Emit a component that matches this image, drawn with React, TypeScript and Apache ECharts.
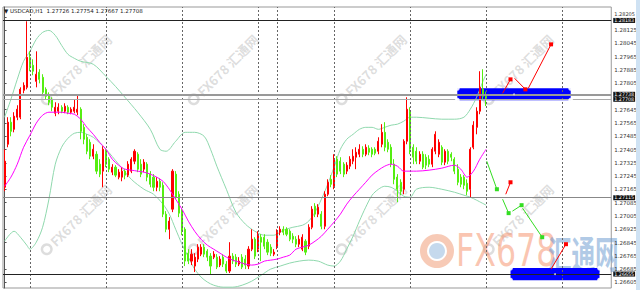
import React, { useEffect, useRef } from "react";
import * as echarts from "echarts";

const headerText = "▼ USDCAD,H1  1.27726 1.27754 1.27667 1.27708";
const SLOTS = 192;

// [open, close, low, high]
const candles = [
  [1.27178, 1.27335, 1.27154, 1.27407], [1.27437, 1.2757, 1.27419, 1.276], [1.2757, 1.27515, 1.27485, 1.276],
  [1.27527, 1.27606, 1.27509, 1.2763], [1.276, 1.27648, 1.27582, 1.27672], [1.276, 1.27768, 1.27588, 1.2778],
  [1.27762, 1.27792, 1.27744, 1.2781], [1.2778, 1.27961, 1.27768, 1.28178], [1.27961, 1.27901, 1.27877, 1.27997],
  [1.27913, 1.27877, 1.27853, 1.27949], [1.27816, 1.27859, 1.2778, 1.27997], [1.27871, 1.27828, 1.27804, 1.27889],
  [1.2784, 1.2775, 1.27732, 1.27859], [1.27768, 1.27726, 1.27708, 1.2778], [1.27732, 1.2769, 1.27672, 1.2775],
  [1.27708, 1.2766, 1.27636, 1.2772], [1.27624, 1.2766, 1.27606, 1.2769], [1.27636, 1.2766, 1.27618, 1.27684],
  [1.2766, 1.27636, 1.27624, 1.27672], [1.27636, 1.27666, 1.27624, 1.27684], [1.2766, 1.2763, 1.27618, 1.27672],
  [1.2763, 1.27648, 1.27618, 1.2766], [1.27636, 1.2766, 1.27624, 1.27708], [1.2763, 1.27648, 1.27612, 1.27732],
  [1.27648, 1.27515, 1.27467, 1.2766], [1.27539, 1.27467, 1.27437, 1.27558], [1.27479, 1.27395, 1.27377, 1.27497],
  [1.27449, 1.27365, 1.27347, 1.27467], [1.27365, 1.27407, 1.27347, 1.27437], [1.27377, 1.27275, 1.27257, 1.27395],
  [1.27317, 1.27257, 1.27239, 1.27347], [1.27275, 1.27407, 1.27178, 1.27425], [1.27395, 1.27317, 1.27299, 1.27407],
  [1.27347, 1.27287, 1.27269, 1.27359], [1.27269, 1.27299, 1.27251, 1.27317], [1.27299, 1.27251, 1.27239, 1.27311],
  [1.27239, 1.27269, 1.27226, 1.27287], [1.27239, 1.27275, 1.27214, 1.27299], [1.27275, 1.27251, 1.27226, 1.27287],
  [1.27251, 1.27317, 1.27239, 1.27335], [1.27275, 1.27347, 1.27263, 1.27359], [1.27335, 1.27395, 1.27317, 1.27407],
  [1.27377, 1.27287, 1.27269, 1.27389], [1.27317, 1.27257, 1.27239, 1.27347], [1.27287, 1.27329, 1.27269, 1.27347],
  [1.27317, 1.27239, 1.27214, 1.27329], [1.27257, 1.27196, 1.27178, 1.27275], [1.27239, 1.27178, 1.27154, 1.27257],
  [1.27178, 1.27214, 1.27154, 1.27239], [1.27214, 1.27178, 1.27154, 1.27232], [1.2719, 1.27016, 1.26998, 1.27208],
  [1.27016, 1.26925, 1.26907, 1.27034], [1.26925, 1.26974, 1.26865, 1.26998], [1.27046, 1.27275, 1.27028, 1.27287],
  [1.27257, 1.27118, 1.27106, 1.27275], [1.27136, 1.27022, 1.26998, 1.27154], [1.27034, 1.26913, 1.26889, 1.27046],
  [1.26925, 1.26733, 1.26703, 1.26937], [1.26781, 1.26733, 1.26715, 1.26805], [1.26733, 1.26775, 1.26709, 1.26805],
  [1.26703, 1.26757, 1.26667, 1.26781], [1.26745, 1.26817, 1.26727, 1.26835], [1.26775, 1.26817, 1.26763, 1.26835],
  [1.26817, 1.26775, 1.26757, 1.26835], [1.26793, 1.26757, 1.26733, 1.26805], [1.26763, 1.26703, 1.26655, 1.26781],
  [1.26757, 1.26775, 1.26745, 1.26793], [1.26757, 1.26697, 1.26685, 1.26775], [1.26709, 1.26745, 1.26697, 1.26763],
  [1.26757, 1.26715, 1.26697, 1.26775], [1.26715, 1.26673, 1.26661, 1.26733], [1.26673, 1.26763, 1.26661, 1.26847],
  [1.26763, 1.26733, 1.26715, 1.26781], [1.26757, 1.26715, 1.26697, 1.26775], [1.26715, 1.26733, 1.26703, 1.26757],
  [1.26757, 1.26697, 1.26685, 1.26775], [1.26745, 1.26709, 1.26685, 1.26769], [1.26703, 1.26805, 1.26685, 1.26823],
  [1.26805, 1.26865, 1.26793, 1.26925], [1.26865, 1.26763, 1.26745, 1.26877], [1.26805, 1.26895, 1.26787, 1.26913],
  [1.26877, 1.26847, 1.26733, 1.26895], [1.26877, 1.26823, 1.26805, 1.26895], [1.26847, 1.26787, 1.26769, 1.26865],
  [1.26817, 1.26781, 1.26763, 1.26835], [1.26775, 1.26787, 1.26763, 1.26805], [1.26817, 1.26907, 1.26805, 1.26925],
  [1.26907, 1.26925, 1.26889, 1.26943], [1.26925, 1.26907, 1.26889, 1.26943], [1.26925, 1.26895, 1.26883, 1.26937],
  [1.26913, 1.26865, 1.26853, 1.26925], [1.26883, 1.26865, 1.26841, 1.26901], [1.26865, 1.26835, 1.26817, 1.26883],
  [1.26835, 1.26865, 1.26817, 1.26889], [1.26805, 1.26877, 1.26793, 1.26895], [1.26853, 1.26787, 1.26769, 1.26865],
  [1.26823, 1.26937, 1.26805, 1.26955], [1.26937, 1.27046, 1.26925, 1.27064], [1.27064, 1.27016, 1.26998, 1.27082],
  [1.27016, 1.27058, 1.26998, 1.27076], [1.27016, 1.26943, 1.26925, 1.27034], [1.26943, 1.27136, 1.26925, 1.27154],
  [1.27136, 1.27208, 1.27124, 1.27226], [1.27226, 1.27196, 1.27178, 1.27251], [1.27184, 1.27347, 1.27166, 1.27377],
  [1.27347, 1.27257, 1.27239, 1.27365], [1.27335, 1.27275, 1.27257, 1.27359], [1.27317, 1.27257, 1.27239, 1.27329],
  [1.27275, 1.27311, 1.27257, 1.27329], [1.27305, 1.27347, 1.27287, 1.27365], [1.27335, 1.27365, 1.27317, 1.27407],
  [1.27359, 1.27389, 1.27287, 1.27419], [1.27377, 1.27407, 1.27359, 1.27437], [1.27407, 1.27377, 1.27359, 1.27425],
  [1.27377, 1.27419, 1.27365, 1.27437], [1.27413, 1.27389, 1.27371, 1.27431], [1.27407, 1.27377, 1.27359, 1.27419],
  [1.27407, 1.27383, 1.27371, 1.27419], [1.27395, 1.27455, 1.27377, 1.27479], [1.27437, 1.27509, 1.27419, 1.27558],
  [1.27509, 1.27419, 1.27395, 1.2757], [1.27449, 1.27407, 1.27389, 1.27467], [1.27419, 1.27317, 1.27299, 1.27437],
  [1.27317, 1.27226, 1.27196, 1.27347], [1.27239, 1.27166, 1.27088, 1.27257], [1.27208, 1.27154, 1.2713, 1.27226],
  [1.27166, 1.27455, 1.27136, 1.27467], [1.27455, 1.27648, 1.27437, 1.2772], [1.27636, 1.27407, 1.27377, 1.2766],
  [1.27419, 1.27359, 1.27317, 1.27437], [1.27395, 1.27335, 1.27317, 1.27419], [1.27335, 1.27377, 1.27317, 1.27395],
  [1.27377, 1.27299, 1.27287, 1.27395], [1.27359, 1.27311, 1.27287, 1.27377], [1.27347, 1.27317, 1.27299, 1.27371],
  [1.27317, 1.27407, 1.27299, 1.27419], [1.27395, 1.27497, 1.27377, 1.27515], [1.27377, 1.27449, 1.27359, 1.27467],
  [1.27419, 1.27329, 1.27311, 1.27431], [1.27329, 1.27395, 1.27311, 1.27407], [1.27395, 1.27335, 1.27317, 1.27407],
  [1.27377, 1.27359, 1.27335, 1.27389], [1.27347, 1.27275, 1.27257, 1.27359], [1.27287, 1.27208, 1.2719, 1.27317],
  [1.27239, 1.27196, 1.27178, 1.27257], [1.27239, 1.2719, 1.27166, 1.27251], [1.27202, 1.27154, 1.2713, 1.27226],
  [1.27166, 1.27407, 1.27118, 1.27419], [1.27419, 1.27552, 1.27407, 1.27576], [1.27539, 1.27636, 1.27497, 1.2766],
  [1.27636, 1.2778, 1.27618, 1.27877], [1.27768, 1.27726, 1.27702, 1.27889], [1.27726, 1.27708, 1.27667, 1.27754],
];

// [bar index, price]
const upperBand = [
  [0, 1.276], [2, 1.27708], [4, 1.27828], [6, 1.27937], [8, 1.27997], [10, 1.28069], [12, 1.28111], [14, 1.28123],
  [16, 1.28093], [18, 1.28033], [20, 1.27979], [22, 1.27955], [24, 1.27937], [28, 1.27919], [32, 1.27846],
  [35, 1.27786], [38, 1.2772], [42, 1.2763], [46, 1.27527], [49, 1.27407], [51, 1.27395], [54, 1.27455],
  [57, 1.27509], [60, 1.27509], [63, 1.27485], [65, 1.27407], [67, 1.27305], [70, 1.27166], [73, 1.27028],
  [76, 1.26956], [79, 1.26913], [82, 1.26889], [85, 1.26889], [88, 1.26919], [91, 1.26937], [94, 1.26949],
  [96, 1.26974], [98, 1.27028], [100, 1.27106], [102, 1.27196], [104, 1.27299], [106, 1.27407], [108, 1.27467],
  [110, 1.27497], [112, 1.27527], [114, 1.27539], [116, 1.27539], [118, 1.27527], [120, 1.27539], [122, 1.27552],
  [124, 1.27558], [126, 1.27576], [128, 1.276], [130, 1.276], [134, 1.27594], [138, 1.27588], [142, 1.27588],
  [145, 1.276], [147, 1.27648], [149, 1.2772], [151, 1.27816], [152, 1.27858],
];
const lowerBand = [
  [0, 1.26853], [3, 1.26913], [5, 1.26877], [7, 1.26829], [8, 1.26805], [10, 1.26847], [12, 1.26937], [14, 1.27106],
  [16, 1.27317], [18, 1.27419], [20, 1.27473], [22, 1.27503], [24, 1.27509], [26, 1.27497], [28, 1.27479],
  [32, 1.27407], [36, 1.27317], [40, 1.27226], [44, 1.27166], [47, 1.27136], [50, 1.27076], [52, 1.27016],
  [54, 1.26925], [56, 1.26835], [58, 1.26757], [60, 1.26685], [62, 1.26637], [64, 1.26607], [66, 1.26588],
  [69, 1.26576], [72, 1.26576], [75, 1.26588], [78, 1.26612], [81, 1.26648], [84, 1.26685], [87, 1.26703],
  [90, 1.26721], [93, 1.26733], [96, 1.26739], [99, 1.26733], [102, 1.26709], [104, 1.26703], [106, 1.26733],
  [108, 1.26805], [110, 1.26883], [112, 1.26974], [114, 1.27058], [116, 1.2713], [118, 1.27166], [120, 1.27184],
  [122, 1.27178], [124, 1.27154], [126, 1.27124], [128, 1.27118], [130, 1.27166], [134, 1.27178], [138, 1.27166],
  [142, 1.27148], [145, 1.2713], [147, 1.27118], [149, 1.271], [152, 1.2707],
];
const maLine = [
  [0, 1.27184], [2, 1.27239], [4, 1.27317], [6, 1.27419], [8, 1.27491], [10, 1.27564], [12, 1.27612], [14, 1.2763],
  [16, 1.2763], [18, 1.2763], [20, 1.27624], [22, 1.27618], [24, 1.27588], [26, 1.27539], [28, 1.27497],
  [30, 1.27449], [32, 1.27407], [34, 1.27347], [36, 1.27311], [38, 1.27287], [40, 1.27281], [42, 1.27275],
  [44, 1.27269], [46, 1.27257], [48, 1.27239], [50, 1.27214], [52, 1.27166], [54, 1.27106], [56, 1.27046],
  [58, 1.26974], [60, 1.26913], [62, 1.26865], [64, 1.26829], [66, 1.26805], [68, 1.26781], [70, 1.26757],
  [72, 1.26739], [74, 1.26727], [76, 1.26715], [78, 1.26709], [80, 1.26715], [82, 1.26733], [84, 1.26739],
  [86, 1.26745], [88, 1.26757], [90, 1.26769], [92, 1.26805], [94, 1.26817], [96, 1.26829], [98, 1.26853],
  [100, 1.26883], [102, 1.26925], [104, 1.26968], [106, 1.27016], [108, 1.27076], [110, 1.27124], [112, 1.27166],
  [114, 1.27208], [116, 1.27251], [118, 1.27281], [120, 1.27305], [122, 1.27317], [124, 1.27305], [126, 1.27275],
  [128, 1.27275], [130, 1.27275], [134, 1.27281], [138, 1.27293], [142, 1.27311], [144, 1.27287], [146, 1.27239],
  [148, 1.27275], [150, 1.27347], [152, 1.27407],
];

const tickLabels = [
  1.26605, 1.26685, 1.26765, 1.26845, 1.26925, 1.27005, 1.27085, 1.27165, 1.27245, 1.27325, 1.27405,
  1.27485, 1.27565, 1.27645, 1.27805, 1.27885, 1.27965, 1.28045, 1.28125, 1.28205,
];
const hLinePrices = [1.28183, 1.27738, 1.27708, 1.27115, 1.26655];
const vLineBars = [8, 32, 56, 80, 86, 104, 128, 152, 176];
const boxes = [
  [142.9, 1.27774, 178.7, 1.27702],
  [159.7, 1.26691, 187.8, 1.26618],
];
const redArrows = [
  [[157.2, 1.27744], [159.7, 1.27828]],
  [[161.0, 1.27834], [164.4, 1.27768]],
  [[165.3, 1.27774], [172.5, 1.28039]],
  [[158.2, 1.27136], [159.7, 1.27208]],
  [[172.5, 1.26685], [177.2, 1.26835]],
];
const greenArrows = [
  [[152.2, 1.27335], [155.4, 1.27166]],
  [[157.2, 1.27106], [159.1, 1.27022]],
  [[160.3, 1.27034], [163.2, 1.2707]],
  [[163.5, 1.27052], [169.7, 1.26877]],
];

const RED = "#ff0000";
const GREEN = "#55ee11";
const BAND = "#8fd8ad";

export default function App() {
  const ref = useRef<HTMLDivElement>(null);
  useEffect(() => {
    if (!ref.current) return;
    const chart = echarts.init(ref.current, undefined, { renderer: "svg" });
    const hStyles = [
      { color: "#222", width: 1 },
      { color: "#999", width: 2 },
      { color: "#aaa", width: 1 },
      { color: "#888", width: 1 },
      { color: "#222", width: 1 },
    ];
    const arrowSeries = (segs: number[][][], color: string) =>
      segs.map((s) => ({
        type: "line",
        xAxisIndex: 1,
        yAxisIndex: 0,
        z: 6,
        silent: true,
        lineStyle: { color, width: 1 },
        itemStyle: { color },
        data: [
          { value: s[0], symbol: "none" },
          { value: s[1], symbol: "rect", symbolSize: 4 },
        ],
      }));
    const handles: number[][] = [];
    boxes.forEach((b) => {
      handles.push([b[0], b[1]], [b[2], b[1]], [b[0], b[3]], [b[2], b[3]]);
    });
    const centers = boxes.map((b) => [(b[0] + b[2]) / 2, (b[1] + b[3]) / 2]);
    const wm: any[] = [];
    [71, 221].forEach((cy) => {
      [75, 222, 370, 517].forEach((cx) => {
        wm.push({
          type: "group",
          x: cx,
          y: cy,
          rotation: Math.PI / 4,
          silent: true,
          z: 50,
          children: [
            { type: "ring", shape: { cx: -40, cy: 0, r: 6, r0: 3.5 }, style: { fill: "rgba(150,150,150,0.32)" } },
            {
              type: "text",
              x: -32,
              y: 0,
              style: {
                text: "FX678 汇通网",
                fontSize: 13,
                fontWeight: "bold",
                fontFamily: "Noto Sans CJK SC, DejaVu Sans, sans-serif",
                fill: "rgba(150,150,150,0.32)",
                verticalAlign: "middle",
              },
            },
          ],
        });
      });
    });
    chart.setOption({
      animation: false,
      backgroundColor: "#ffffff",
      grid: { left: 3, right: 23, top: 7, bottom: 2, show: true, borderColor: "#999", borderWidth: 1 },
      xAxis: [
        {
          type: "category",
          data: Array.from({ length: SLOTS }, (_, i) => String(i)),
          boundaryGap: true,
          axisLine: { show: false },
          axisTick: { show: false },
          axisLabel: { show: false },
          splitLine: { show: false },
        },
        { type: "value", min: -0.5, max: SLOTS - 0.5, show: false },
      ],
      yAxis: {
        type: "value",
        position: "right",
        min: 1.26571,
        max: 1.28264,
        scale: true,
        splitLine: { show: false },
        axisLine: { show: true, lineStyle: { color: "#555", width: 1 } },
        axisTick: { show: true, length: 2, customValues: tickLabels, lineStyle: { color: "#555" } },
        axisLabel: {
          customValues: tickLabels,
          formatter: (v: number) =>
            v === tickLabels[tickLabels.length - 1] ? `{up|${v.toFixed(5)}}` : v.toFixed(5),
          rich: { up: { fontSize: 5, padding: [0, 0, 5, 0], color: "#333", fontFamily: "DejaVu Sans, sans-serif" } },
          fontSize: 5.5,
          color: "#333",
          margin: 3,
          fontFamily: "DejaVu Sans, sans-serif",
        },
      },
      series: [
        {
          type: "line",
          xAxisIndex: 1,
          yAxisIndex: 0,
          data: [],
          z: 1,
          silent: true,
          markArea: {
            silent: true,
            itemStyle: { color: "#0000ff", opacity: 1 },
            data: boxes.map((b) => [{ coord: [b[0], b[1]] }, { coord: [b[2], b[3]] }]),
          },
          markLine: {
            silent: true,
            precision: 5,
            symbol: ["none", "none"],
            label: { show: false },
            lineStyle: { color: "#666", type: [2, 2], width: 1 },
            data: vLineBars.map((v) => ({ xAxis: v })),
          },
        },
        {
          type: "line",
          xAxisIndex: 1,
          data: upperBand,
          symbol: "none",
          smooth: 0.3,
          z: 3,
          lineStyle: { color: BAND, width: 1 },
        },
        {
          type: "line",
          xAxisIndex: 1,
          data: lowerBand,
          symbol: "none",
          smooth: 0.3,
          z: 3,
          lineStyle: { color: BAND, width: 1 },
        },
        {
          type: "candlestick",
          xAxisIndex: 0,
          yAxisIndex: 0,
          data: candles,
          barWidth: 1.6,
          z: 4,
          itemStyle: { color: RED, color0: GREEN, borderColor: RED, borderColor0: GREEN, borderWidth: 1 },
          markLine: {
            silent: true,
            precision: 5,
            symbol: ["none", "none"],
            data: hLinePrices.map((p, i) => ({
              yAxis: p,
              lineStyle: { color: hStyles[i].color, width: hStyles[i].width, type: "solid" },
            })),
            label: {
              show: true,
              position: "end",
              distance: 2,
              formatter: (p: any) => Number(p.value).toFixed(5),
              backgroundColor: "#111",
              color: "#fff",
              fontSize: 4.8,
              padding: [0, 1],
              fontFamily: "DejaVu Sans, sans-serif",
            },
          },
        },
        {
          type: "line",
          xAxisIndex: 1,
          data: maLine,
          symbol: "none",
          smooth: 0.3,
          z: 5,
          lineStyle: { color: "#ff00ff", width: 1 },
        },
        {
          type: "scatter",
          xAxisIndex: 1,
          data: handles,
          symbol: "emptyCircle",
          symbolSize: 3,
          z: 6,
          silent: true,
          itemStyle: { color: "#fff", borderColor: "#9b8cff", borderWidth: 0.8 },
        },
        {
          type: "scatter",
          xAxisIndex: 1,
          data: centers,
          symbol: "circle",
          symbolSize: 2,
          z: 6,
          silent: true,
          itemStyle: { color: "#ddd" },
        },
        ...arrowSeries(redArrows, RED),
        ...arrowSeries(greenArrows, "#33dd22"),
      ],
      graphic: [
        {
          type: "text",
          left: 4,
          top: 8,
          z: 60,
          style: { text: headerText, fontSize: 5.5, fill: "#222", fontFamily: "DejaVu Sans, sans-serif" },
        },
        ...wm,
        {
          type: "group",
          z: 70,
          silent: true,
          children: [
            { type: "ring", shape: { cx: 437, cy: 251, r: 17, r0: 10 }, style: { fill: "rgba(240,150,110,0.5)" } },
            { type: "circle", shape: { cx: 437, cy: 251, r: 8 }, style: { fill: "rgba(140,180,220,0.5)" } },
            {
              type: "text",
              x: 456,
              y: 251,
              scaleX: 0.72,
              style: {
                text: "FX678",
                fontSize: 44,
                fontFamily: "DejaVu Sans, sans-serif",
                fill: "rgba(245,140,100,0.5)",
                verticalAlign: "middle",
              },
            },
            {
              type: "text",
              x: 548,
              y: 251,
              scaleX: 0.62,
              style: {
                text: "汇通网",
                fontSize: 38,
                fontFamily: "Noto Sans CJK SC, sans-serif",
                fontWeight: "bold",
                fill: "rgba(100,150,205,0.5)",
                verticalAlign: "middle",
              },
            },
          ],
        },
        {
          type: "rect",
          shape: { x: 636, y: 0, width: 4, height: 290 },
          style: { fill: "#cfe2f3" },
          z: 80,
        },
      ],
    });
    return () => chart.dispose();
  }, []);
  return (
    <div
      ref={ref}
      style={{ position: "fixed", left: 0, top: 0, width: 640, height: 290, background: "#fff" }}
    />
  );
}
